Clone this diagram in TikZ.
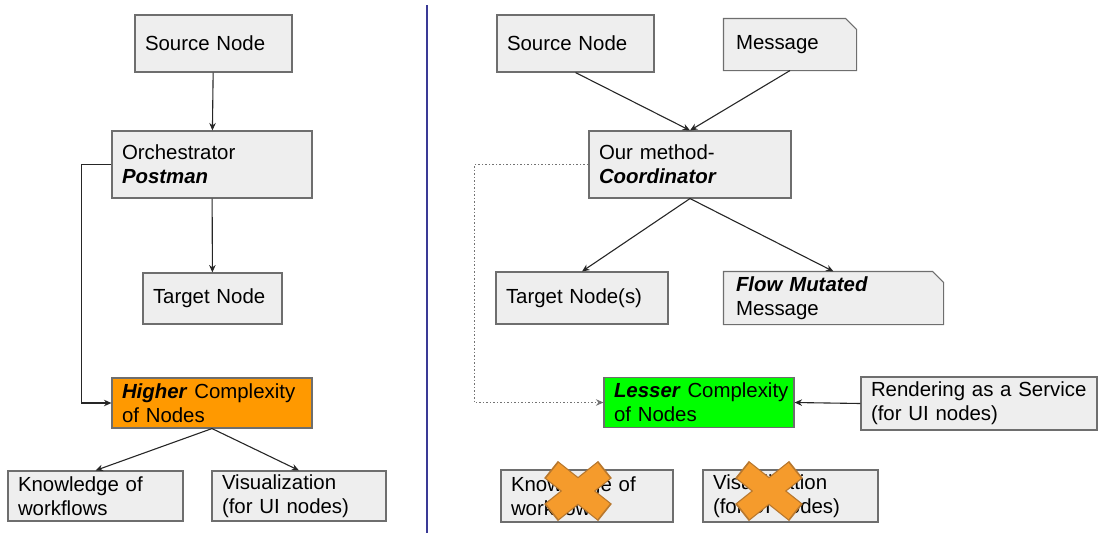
\documentclass[tikz,border=0pt]{standalone}
\usepackage{fontspec}
\setmainfont{Liberation Sans}
\usetikzlibrary{arrows.meta,calc,backgrounds}

\definecolor{boxgray}{HTML}{EEEEEE}
\definecolor{boxline}{HTML}{6E6E6E}
\definecolor{hiorange}{HTML}{FF9900}
\definecolor{lowgreen}{HTML}{00FF00}
\definecolor{crossfill}{HTML}{F59B2C}
\definecolor{crossedge}{HTML}{B8782E}
\definecolor{divider}{HTML}{3A3A96}

\newcommand\boxfont{\fontsize{20.4}{24}\selectfont\hyphenpenalty 10000\relax}

\tikzset{
  x=1pt, y=-1pt,
  box/.style={draw=boxline, line width=1.1pt, fill=boxgray, inner xsep=10pt,
    inner ysep=0pt, align=left, font=\boxfont, rectangle},
  note/.style={box, draw=none, fill=none},
  noteshape/.style={draw=boxline, line width=1.1pt, fill=boxgray},
  link/.style={draw=black!85, line width=1.1pt,
    -{Stealth[length=7.5pt,width=6.5pt]}},
  dotlink/.style={link, draw=black!55, dash pattern=on 1.5pt off 2pt},
  crossedge/.style={draw=crossedge, line width=22pt},
  crossfill/.style={draw=crossfill, line width=19.5pt},
}

% outline of a message box: rectangle with its top right corner cut off
\newcommand\noteoutline[1]{%
  \begin{scope}[on background layer]
  \path[noteshape] (#1.north west) -- ($(#1.north east)+(-11,0)$)
    -- ($(#1.north east)+(0,11)$) -- (#1.south east) -- (#1.south west) -- cycle;
  \end{scope}
}

% an orange X laid over a node
\newcommand\strike[1]{%
  \draw[crossedge] ($(#1)+(-27,-21.5)$) -- ($(#1)+(27,21.5)$)
                   ($(#1)+(27,-21.5)$) -- ($(#1)+(-27,21.5)$);
  \draw[crossfill] ($(#1)+(-25.6,-20.4)$) -- ($(#1)+(25.6,20.4)$)
                   ($(#1)+(25.6,-20.4)$) -- ($(#1)+(-25.6,20.4)$);
}

\begin{document}
\begin{tikzpicture}
\useasboundingbox (0,0) rectangle (1099,533);

% divider between the two designs
\coordinate (divtop) at (427,5);
\coordinate (divbot) at (427,533);
\draw[divider, line width=1.3pt] (divtop) -- (divbot);

% ---------- left: orchestrator ----------
\node[box, text width=137pt, minimum height=57pt] (lsrc) at (213.5,43.5) {Source Node};
\node[box, text width=180pt, minimum height=67pt] (lorch) at (212,164.5)
  {Orchestrator\\\textbf{\textit{Postman}}};
\node[box, text width=119pt, minimum height=51pt] (ltgt) at (212.5,298.5) {Target Node};
\node[box, fill=hiorange, text width=180pt, minimum height=50pt] (lhigh) at (212,403)
  {\mbox{\textbf{\textit{Higher}} Complexity}\\of Nodes};
\node[box, text width=155pt, minimum height=50pt] (lknow) at (95.5,496)
  {Knowledge of\\workflows};
\node[box, text width=154pt, minimum height=50pt] (lvis) at (299,496)
  {Visualization\\(for UI nodes)};

\draw[link] (lsrc) -- (lorch);
\draw[link] (lorch) -- (ltgt);
\draw[link] (lorch.west) -- ++(-30,0) |- (lhigh.west);
\draw[link] (lhigh.south) -- (lknow.north);
\draw[link] (lhigh.south) -- (lvis.north);

% ---------- right: coordinator ----------
\node[box, text width=137pt, minimum height=57pt] (rsrc) at (575.5,43.5) {Source Node};
\node[note, inner xsep=12pt, text width=108pt, minimum height=51pt] (rmsg) at (790,44.5) {Message};
\noteoutline{rmsg}
\node[box, text width=182pt, minimum height=67pt] (rcoord) at (690,164.5)
  {Our method-\\\textbf{\textit{Coordinator}}};
\node[box, text width=152pt, minimum height=52pt] (rtgt) at (582,298) {Target Node(s)};
\node[note, inner xsep=12pt, text width=195pt, minimum height=52pt] (rflow) at (833.5,298)
  {\textbf{\textit{Flow Mutated}}\\Message};
\noteoutline{rflow}
\node[box, fill=lowgreen, text width=170pt, minimum height=50pt] (rless) at (699,402.5)
  {\mbox{\textbf{\textit{Lesser}} Complexity}\\of Nodes};
\node[box, text width=216pt, minimum height=53pt] (rrender) at (979,403.5)
  {Rendering as a Service\\(for UI nodes)};
\node[box, text width=152pt, minimum height=52pt] (rknow) at (587,496)
  {Knowledge of\\workflows};
\node[box, text width=155pt, minimum height=52pt] (rvis) at (790.5,496)
  {Visualization\\(for UI nodes)};

\draw[link] (rsrc.south) -- (rcoord.north);
\draw[link] (rmsg.south) -- (rcoord.north);
\draw[link] (rcoord.south) -- (rtgt.north);
\draw[link] (rcoord.south) -- (rflow.north);
\draw[dotlink] (rcoord.west) -- ++(-114,0) |- (rless.west);
\draw[link] (rrender.west) -- (rless.east);

% no longer needed on the right
\coordinate (xknow) at (578,491);
\coordinate (xvis) at (769,491);
\strike{xknow}
\strike{xvis}
\end{tikzpicture}
\end{document}
